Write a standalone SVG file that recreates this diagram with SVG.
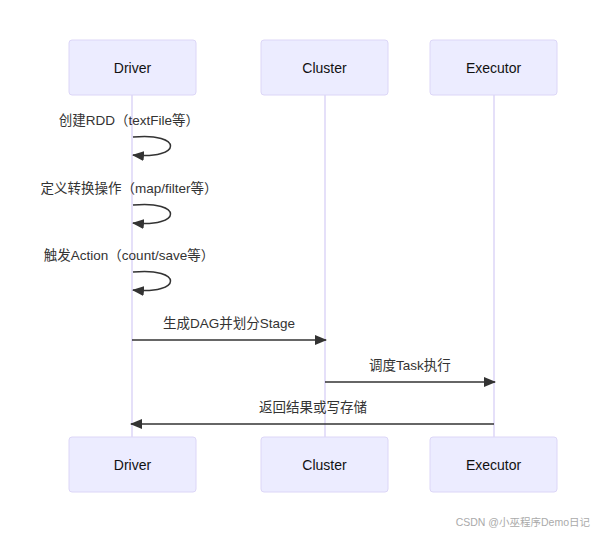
<svg xmlns="http://www.w3.org/2000/svg" width="595" height="534" viewBox="0 0 595 534">
<style>
.actor{fill:#ECECFF;stroke:#DCD6F7;stroke-width:1}
.atext{font-family:"Liberation Sans","Noto Sans CJK SC",sans-serif;font-size:14px;fill:#111;text-anchor:middle;dominant-baseline:central}
.life{stroke:#DCD6F7;stroke-width:1.5}
.msg{stroke:#333;stroke-width:1.5;fill:none}
.mtext{font-family:"Liberation Sans","Noto Sans CJK SC",sans-serif;font-size:13.5px;fill:#333;text-anchor:middle;dominant-baseline:central}
.wm{font-family:"Liberation Sans","Noto Sans CJK SC",sans-serif;font-size:10.5px;fill:#aaa;text-anchor:end}
</style>
<defs>
<marker id="arrowL" viewBox="0 0 12 10" refX="11" refY="5" markerWidth="12" markerHeight="10" markerUnits="userSpaceOnUse" orient="auto">
<path d="M0,0 L12,5 L0,10 z" fill="#333"/>
</marker>
</defs>
<g id="lifelines">
<line class="life" x1="132" y1="95" x2="132" y2="437"/>
<line class="life" x1="325" y1="95" x2="325" y2="437"/>
<line class="life" x1="494" y1="95" x2="494" y2="437"/>
</g>
<g id="driver-top"><rect class="actor" x="69" y="40" width="127" height="55" rx="3"/><text class="atext" x="132.5" y="68">Driver</text></g>
<g id="cluster-top"><rect class="actor" x="261" y="40" width="127" height="55" rx="3"/><text class="atext" x="324.5" y="68">Cluster</text></g>
<g id="executor-top"><rect class="actor" x="430" y="40" width="127" height="55" rx="3"/><text class="atext" x="493.5" y="68">Executor</text></g>
<g id="driver-bottom"><rect class="actor" x="69" y="437" width="127" height="55" rx="3"/><text class="atext" x="132.5" y="465">Driver</text></g>
<g id="cluster-bottom"><rect class="actor" x="261" y="437" width="127" height="55" rx="3"/><text class="atext" x="324.5" y="465">Cluster</text></g>
<g id="executor-bottom"><rect class="actor" x="430" y="437" width="127" height="55" rx="3"/><text class="atext" x="493.5" y="465">Executor</text></g>
<g id="connectors">
<path class="msg" marker-end="url(#arrowL)" d="M133,137 C183,132 183,160 133,155"/>
<text class="mtext" x="129" y="120">创建RDD（textFile等）</text>
<path class="msg" marker-end="url(#arrowL)" d="M133,205 C183,200 183,228 133,223"/>
<text class="mtext" x="129" y="188">定义转换操作（map/filter等）</text>
<path class="msg" marker-end="url(#arrowL)" d="M133,272 C183,267 183,295 133,290"/>
<text class="mtext" x="129" y="255">触发Action（count/save等）</text>
<line class="msg" marker-end="url(#arrowL)" x1="132" y1="340" x2="326" y2="340"/>
<text class="mtext" x="229" y="323">生成DAG并划分Stage</text>
<line class="msg" marker-end="url(#arrowL)" x1="325" y1="382" x2="495" y2="382"/>
<text class="mtext" x="410" y="365">调度Task执行</text>
<line class="msg" marker-end="url(#arrowL)" x1="494" y1="424" x2="131" y2="424"/>
<text class="mtext" x="313" y="407">返回结果或写存储</text>
</g>
<text class="wm" x="590" y="526">CSDN @小巫程序Demo日记</text>
</svg>
